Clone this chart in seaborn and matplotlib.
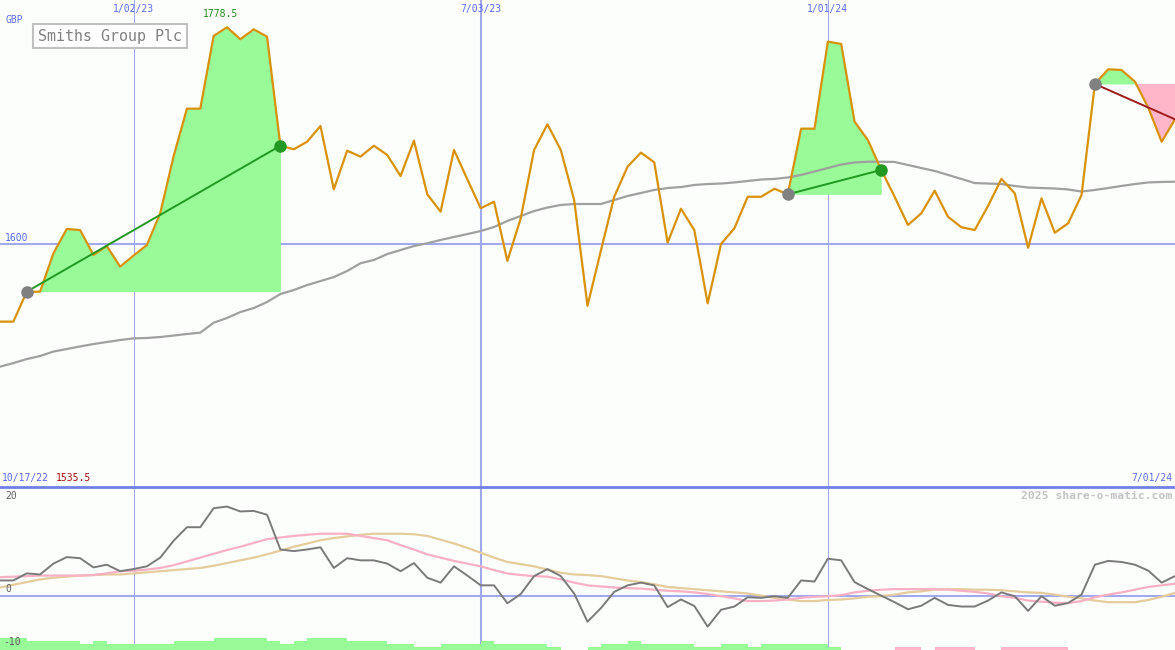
import numpy as np
import pandas as pd
import matplotlib
matplotlib.use("Agg")
import matplotlib.pyplot as plt
import matplotlib.transforms as mtransforms
from matplotlib.patches import Rectangle
import seaborn as sns

# weekly closes, Smiths Group Plc (GBP), from 2022-10-24
start = "2022-10-24"
price = [1535.5, 1535.5, 1560.2, 1560.2, 1591.9, 1612.0, 1611.1, 1590.5, 1597.9, 1580.9,
         1590.0, 1598.8, 1625.0, 1672.0, 1711.3, 1711.3, 1771.3, 1778.5, 1768.6, 1776.8,
         1770.7, 1680.7, 1677.8, 1684.0, 1697.0, 1644.7, 1676.6, 1671.7, 1680.7, 1673.1,
         1655.7, 1684.9, 1640.6, 1626.3, 1677.2, 1653.0, 1629.1, 1634.5, 1585.6, 1620.8,
         1677.2, 1698.4, 1677.2, 1635.9, 1548.6, 1594.0, 1638.6, 1663.4, 1675.0, 1667.0,
         1600.7, 1628.7, 1611.1, 1550.6, 1599.6, 1612.5, 1638.6, 1638.6, 1645.2, 1640.6,
         1694.8, 1694.8, 1766.6, 1764.7, 1700.6, 1685.4, 1660.7, 1638.6, 1615.3, 1624.9,
         1643.6, 1622.1, 1613.4, 1611.1, 1631.0, 1653.3, 1641.4, 1596.5, 1637.3, 1608.9,
         1616.7, 1640.0, 1731.7, 1743.8, 1743.2, 1733.6, 1712.0, 1684.0, 1702.5]

# long moving average (grey)
ma = [1498.3, 1501.3, 1504.6, 1507.1, 1510.8, 1512.9, 1515.0, 1517.0, 1518.7, 1520.3,
      1521.7, 1522.0, 1522.8, 1524.0, 1525.3, 1526.4, 1534.6, 1538.5, 1543.4, 1546.7,
      1551.7, 1558.3, 1561.6, 1565.7, 1569.0, 1572.3, 1577.3, 1583.7, 1586.4, 1591.3,
      1594.6, 1597.9, 1600.2, 1602.9, 1605.4, 1607.8, 1610.3, 1613.6, 1618.6, 1622.7,
      1626.8, 1629.7, 1631.8, 1632.6, 1632.6, 1632.6, 1635.9, 1639.2, 1641.7, 1644.2,
      1645.8, 1646.6, 1648.3, 1649.1, 1649.5, 1650.4, 1651.6, 1652.8, 1653.3, 1654.5,
      1656.6, 1659.4, 1662.3, 1665.2, 1666.9, 1667.5, 1667.5, 1667.3, 1664.8, 1662.3,
      1659.9, 1656.6, 1653.3, 1649.9, 1649.5, 1649.1, 1647.5, 1646.2, 1645.8, 1645.4,
      1644.6, 1642.9, 1644.2, 1645.8, 1647.5, 1649.1, 1650.4, 1650.8, 1651.0]

# lower panel oscillators
osc = [2.8, 2.8, 4.1, 3.9, 5.9, 7.1, 6.9, 5.2, 5.7, 4.5,
       4.9, 5.4, 7.0, 10.1, 12.6, 12.6, 16.1, 16.4, 15.5, 15.6,
       14.9, 8.5, 8.2, 8.5, 8.9, 5.1, 6.9, 6.5, 6.5, 5.9,
       4.5, 6.0, 3.3, 2.4, 5.4, 3.7, 1.9, 1.9, -1.4, 0.3,
       3.6, 4.9, 3.6, 0.4, -4.8, -2.3, 0.7, 1.9, 2.4, 1.9,
       -2.1, -0.7, -1.9, -5.7, -2.6, -2.0, -0.3, -0.4, -0.1, -0.4,
       2.8, 2.6, 6.8, 6.5, 2.5, 1.2, 0.0, -1.2, -2.5, -1.85,
       -0.4, -1.7, -2.0, -2.0, -0.9, 0.6, -0.1, -2.8, -0.1, -1.85,
       -1.35, 0.2, 5.7, 6.4, 6.2, 5.7, 4.6, 2.4, 3.6]
sig_fast = [3.4, 3.5, 3.6, 3.7, 3.7, 3.7, 3.7, 3.8, 4.1, 4.5,
            4.6, 4.8, 5.1, 5.6, 6.3, 7.0, 7.7, 8.4, 9.0, 9.7,
            10.4, 10.7, 11.0, 11.2, 11.4, 11.4, 11.4, 11.0, 10.6, 10.2,
            9.3, 8.5, 7.6, 7.0, 6.4, 5.9, 5.4, 4.7, 4.1, 3.8,
            3.6, 3.5, 3.0, 2.4, 1.9, 1.7, 1.5, 1.4, 1.3, 1.1,
            0.9, 0.8, 0.6, 0.3, -0.1, -0.5, -1.0, -1.0, -0.9, -0.7,
            -0.4, -0.2, -0.1, 0.1, 0.6, 0.9, 1.1, 1.2, 1.2, 1.2,
            1.2, 1.1, 0.9, 0.7, 0.4, -0.1, -0.4, -0.9, -1.1, -1.3,
            -1.35, -1.0, -0.3, 0.2, 0.6, 1.1, 1.6, 1.9, 2.2]
sig_slow = [1.5, 2.0, 2.5, 3.0, 3.3, 3.5, 3.7, 3.8, 3.9, 3.9,
            4.1, 4.3, 4.5, 4.7, 4.9, 5.1, 5.5, 6.0, 6.5, 7.0,
            7.6, 8.3, 9.0, 9.6, 10.2, 10.6, 10.9, 11.2, 11.4, 11.4,
            11.4, 11.3, 11.0, 10.3, 9.6, 8.8, 7.9, 7.0, 6.2, 5.8,
            5.4, 4.8, 4.2, 3.9, 3.8, 3.6, 3.2, 2.8, 2.5, 2.1,
            1.6, 1.4, 1.2, 1.0, 0.8, 0.6, 0.4, 0.0, -0.4, -0.7,
            -1.0, -1.0, -0.8, -0.7, -0.5, -0.2, -0.1, 0.2, 0.6, 0.8,
            1.1, 1.2, 1.2, 1.1, 1.1, 1.0, 0.8, 0.6, 0.5, 0.2,
            -0.2, -0.5, -0.9, -1.2, -1.2, -1.2, -0.8, -0.2, 0.5]
# trend strength bars (+ up / - down), one per week
trend = [4, 4, 3, 3, 3, 3, 2, 3, 2, 2, 2, 2, 2, 3, 3, 3, 4, 4, 4, 4,
         3, 2, 3, 4, 4, 4, 3, 3, 3, 2, 2, 1, 1, 2, 2, 2, 3, 2, 2, 2,
         2, 1, 0, 0, 1, 2, 2, 3, 2, 2, 2, 2, 1, 1, 2, 2, 1, 2, 2, 2,
         2, 2, 1, 0, 0, 0, 0, -1, -1, 0, -1, -1, -1, 0, 0, -1, -1, -1, -1, -1,
         0, 0, 0, 0, 0, 0, 0, 0]

grid_dates = ["2023-01-02", "2023-07-03", "2024-01-01"]
grid_labels = ["1/02/23", "7/03/23", "1/01/24"]
closed_trades = [(2, 21), (59, 66)]   # entry, exit week index
open_trade = 82

dates = pd.date_range(start, periods=len(price), freq="7D")
df = pd.DataFrame({"date": dates, "price": price, "ma": ma,
                   "osc": osc, "fast": sig_fast, "slow": sig_slow})
price_a = np.array(price)

BG = "#fcfefc"
BLUE = "#a0a8f0"
TXT = "#5c6cf0"
ORANGE = "#d8920a"
GREEN_FILL = "#98fb98"
PINK = "#ffb6c8"

sns.set_style("white")
plt.rcParams["font.family"] = ["DejaVu Sans Mono"]

fig = plt.figure(figsize=(11.75, 6.5), dpi=100, facecolor=BG)
H = 650.0
ax1 = fig.add_axes([0, 163 / H, 1, 487 / H])
ax2 = fig.add_axes([0, 0, 1, 163 / H])
for ax in (ax1, ax2):
    ax.set_axis_off()
    ax.set_xlim(dates[0], dates[-1])
ax1.set_ylim(1399.0, 1801.0)
ax2.set_ylim(-10, 20)

# grid
for d, w in zip(grid_dates, [1.0, 2.0, 1.0]):
    ax1.axvline(pd.Timestamp(d), color=BLUE, lw=w * 0.75, zorder=1)
    ax2.axvline(pd.Timestamp(d), color=BLUE, lw=w * 0.75, zorder=1)
ax1.axhline(1600, color=BLUE, lw=1.5, zorder=1)
ax2.axhline(0, color=BLUE, lw=1.5, zorder=1)
ax2.axhline(20, color="#7080e8", lw=2, zorder=6, clip_on=False)

# trades
for a, b in closed_trades:
    base = price[a]
    seg = slice(a, b + 1)
    ax1.fill_between(dates[seg], price_a[seg], base, where=price_a[seg] >= base,
                     interpolate=True, color=GREEN_FILL, lw=0, zorder=2)
    ax1.plot([dates[a], dates[b]], [price[a], price[b]], color="#229922", lw=1.4, zorder=5)
    ax1.plot(dates[a], price[a], "o", color="#808080", ms=8, zorder=6)
    ax1.plot(dates[b], price[b], "o", color="#229922", ms=8, zorder=6)

base = price[open_trade]
seg = slice(open_trade, None)
ax1.fill_between(dates[seg], price_a[seg], base, where=price_a[seg] >= base,
                 interpolate=True, color=GREEN_FILL, lw=0, zorder=2)
ax1.fill_between(dates[seg], price_a[seg], base, where=price_a[seg] <= base,
                 interpolate=True, color=PINK, lw=0, zorder=2)
ax1.plot([dates[open_trade], dates[-1]], [price[open_trade], price[-1]],
         color="#a01c1c", lw=1.4, zorder=5)
ax1.plot(dates[open_trade], price[open_trade], "o", color="#808080", ms=8, zorder=6)

# price and moving average
sns.lineplot(data=df, x="date", y="ma", ax=ax1, color="#a0a0a0", lw=1.6, zorder=3)
sns.lineplot(data=df, x="date", y="price", ax=ax1, color=ORANGE, lw=1.6, zorder=4)
ax1.set_xlim(dates[0], dates[-1])

# lower panel
colors = [GREEN_FILL if t > 0 else PINK for t in trend]
ax2.bar(dates[:-1], [abs(t) * 0.55 for t in trend], width=7, align="edge",
        bottom=-10, color=colors, lw=0, zorder=2)
sns.lineplot(data=df, x="date", y="slow", ax=ax2, color="#e4cc9c", lw=1.6, zorder=3)
sns.lineplot(data=df, x="date", y="fast", ax=ax2, color="#f8b0c4", lw=1.6, zorder=3)
sns.lineplot(data=df, x="date", y="osc", ax=ax2, color="#7a7a7a", lw=1.4, zorder=4)
ax2.set_xlim(dates[0], dates[-1])
ax2.set_ylim(-10, 20)


def fx(x):
    return x / 1175.0


def fy(y):
    return 1 - y / H


# labels
top = mtransforms.blended_transform_factory(ax1.transData, fig.transFigure)
for d, lab in zip(grid_dates, grid_labels):
    ax1.text(pd.Timestamp(d), fy(9), lab, transform=top, ha="center", va="center",
             color=TXT, fontsize=7)
fig.text(fx(5), fy(20), "GBP", color=TXT, fontsize=7, va="center")
fig.text(fx(5), fy(238), "1600", color=TXT, fontsize=7, va="center")
fig.patches.append(Rectangle((fx(33), fy(48)), fx(154), 24 / H, transform=fig.transFigure,
                             facecolor="white", edgecolor="#c0c0c0", lw=1.5, zorder=10))
fig.text(fx(110), fy(36.5), "Smiths Group Plc", color="#808080", fontsize=10.8,
         ha="center", va="center", zorder=11)
imax = int(np.argmax(price_a))
ax1.annotate(f"{price_a.max():.1f}", (dates[imax], price_a[imax]), xytext=(-5, 6),
             textcoords="offset points", ha="center", va="bottom",
             color="#228b22", fontsize=7)
fig.text(fx(2), fy(478), "10/17/22", color=TXT, fontsize=7, va="center")
fig.text(fx(56), fy(478), f"{price_a.min():.1f}", color="#a01010", fontsize=7, va="center")
fig.text(fx(1172), fy(478), "7/01/24", color=TXT, fontsize=7, va="center", ha="right")
fig.text(fx(1172), fy(496), "2025 share-o-matic.com", color="#c4c4c4", fontsize=8.2,
         va="center", ha="right", fontweight="bold")
fig.text(fx(5), fy(496), "20", color="#606060", fontsize=7, va="center")
fig.text(fx(5), fy(589), "0", color="#606060", fontsize=7, va="center")
fig.text(fx(3), fy(642), "-10", color="#606060", fontsize=7, va="center")

fig.savefig("out.png", dpi=100, facecolor=BG)
